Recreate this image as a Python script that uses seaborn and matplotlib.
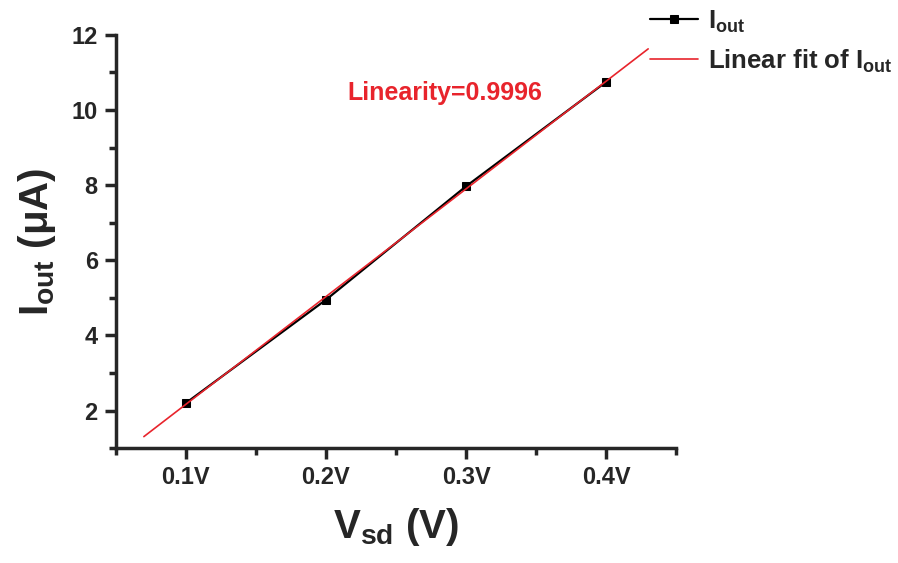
import numpy as np
import pandas as pd
import matplotlib
matplotlib.use("Agg")
import matplotlib.pyplot as plt
import seaborn as sns
from matplotlib.ticker import MultipleLocator, FixedLocator

# Measured output current versus source-drain voltage
vsd = [0.1, 0.2, 0.3, 0.4]
iout = [2.2, 4.95, 7.97, 10.75]
tick_labels = ["0.1V", "0.2V", "0.3V", "0.4V"]
fit_range = [0.07, 0.43]
linearity = 0.9996

sns.set_style("ticks")
plt.rcParams["font.family"] = ["Liberation Sans", "DejaVu Sans"]
plt.rcParams["font.weight"] = "bold"
plt.rcParams["mathtext.fontset"] = "custom"
plt.rcParams["mathtext.rm"] = "Liberation Sans:bold"
plt.rcParams["mathtext.it"] = "Liberation Sans:bold"
plt.rcParams["mathtext.bf"] = "Liberation Sans:bold"
plt.rcParams["mathtext.default"] = "rm"

fig = plt.figure(figsize=(8.98, 5.63), dpi=100)
ax = fig.add_axes([0.129, 0.204, 0.624, 0.734])

# least-squares line through the measurements
slope, intercept = np.polyfit(vsd, iout, 1)
xfit = np.array(fit_range)
fit_df = pd.DataFrame({"x": xfit, "y": slope * xfit + intercept})
data_df = pd.DataFrame({"x": vsd, "y": iout})

sns.lineplot(data=data_df, x="x", y="y", ax=ax, color="black", lw=1.6,
             marker="s", markersize=6, markeredgecolor="black",
             label=r"I$_{\rm out}$")
sns.lineplot(data=fit_df, x="x", y="y", ax=ax, color="#e8242c", lw=1.2,
             label=r"Linear fit of I$_{\rm out}$")

ax.set_xlim(0.05, 0.45)
ax.set_ylim(1, 12)
ax.xaxis.set_major_locator(FixedLocator(vsd))
ax.set_xticklabels(tick_labels)
ax.xaxis.set_minor_locator(FixedLocator([0.05, 0.15, 0.25, 0.35, 0.45]))
ax.yaxis.set_major_locator(MultipleLocator(2))
ax.yaxis.set_minor_locator(MultipleLocator(1))

for side in ("top", "right"):
    ax.spines[side].set_visible(False)
for side in ("left", "bottom"):
    ax.spines[side].set_linewidth(2.5)
ax.tick_params(which="major", direction="out", length=8, width=2.5,
               labelsize=17, pad=5)
ax.tick_params(which="minor", direction="out", length=5, width=2.5)
for lab in ax.get_xticklabels() + ax.get_yticklabels():
    lab.set_fontweight("bold")

ax.set_xlabel(r"V$_{\rm sd}$ (V)", fontsize=29, fontweight="bold", labelpad=12)
ax.set_ylabel(r"I$_{\rm out}$ ($\mu$A)", fontsize=29, fontweight="bold", labelpad=10)

ax.text(0.285, 10.45, f"Linearity={linearity}", color="#e8242c",
        fontsize=18, fontweight="bold", ha="center", va="center")

leg = ax.legend(loc="upper left", bbox_to_anchor=(0.724, 0.985),
                bbox_transform=fig.transFigure, frameon=False,
                fontsize=18.5, handlelength=1.85, handletextpad=0.4,
                labelspacing=0.5, borderaxespad=0, borderpad=0)
for t in leg.get_texts():
    t.set_fontweight("bold")

fig.savefig("out.png", dpi=100)
